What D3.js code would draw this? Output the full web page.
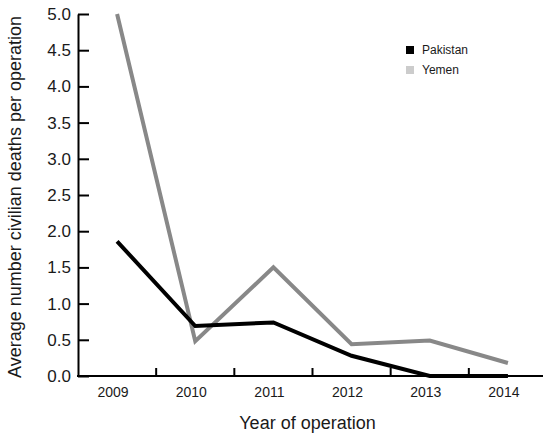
<!DOCTYPE html>
<html>
<head>
<meta charset="utf-8">
<script src="https://cdn.jsdelivr.net/npm/d3@7"></script>
<style>
  html, body { margin: 0; padding: 0; background: #fff; }
  text { font-family: "Liberation Sans", Arial, Helvetica, sans-serif; fill: #1a1a1a; }
</style>
</head>
<body>
<svg id="chart" width="543" height="434"></svg>
<script>
const years = ["2009", "2010", "2011", "2012", "2013", "2014"];
const pakistan = [1.86, 0.69, 0.74, 0.28, 0.0, 0.0];
const yemen = [5.0, 0.48, 1.5, 0.44, 0.49, 0.18];
const yTicks = [0, 0.5, 1.0, 1.5, 2.0, 2.5, 3.0, 3.5, 4.0, 4.5, 5.0];
const seriesNames = ["Pakistan", "Yemen"];
const lineColors = ["#000000", "#888888"];
const legendColors = ["#000000", "#cccccc"];

const svg = d3.select("#chart");
const x = d3.scaleBand().domain(years).range([78, 547]).padding(0);
const y = d3.scaleLinear().domain([0, 5]).range([376, 14]);
const cx = d => x(d) + x.bandwidth() / 2;

// Y axis
const yAxis = d3.axisLeft(y)
  .tickValues(yTicks)
  .tickFormat(d3.format(".1f"))
  .tickSizeInner(-11)
  .tickSizeOuter(0)
  .tickPadding(7);
const gy = svg.append("g").attr("transform", "translate(78,0)").call(yAxis);
gy.select(".domain").attr("stroke", "#000").attr("stroke-width", 2);
gy.selectAll(".tick line").attr("stroke", "#000").attr("stroke-width", 2);
gy.selectAll(".tick text").style("font-size", "17px").attr("fill", "#1a1a1a")
  .style("font-family", "'Liberation Sans', Arial, sans-serif");

// X axis line
svg.append("line")
  .attr("x1", 77).attr("x2", 543)
  .attr("y1", y(0)).attr("y2", y(0))
  .attr("stroke", "#000").attr("stroke-width", 2);

// X boundary ticks
svg.selectAll(".xb").data(years.slice(1)).enter().append("line")
  .attr("x1", d => x(d)).attr("x2", d => x(d))
  .attr("y1", y(0)).attr("y2", y(0) - 8)
  .attr("stroke", "#000").attr("stroke-width", 2);

// X labels
svg.selectAll(".xl").data(years).enter().append("text")
  .attr("x", d => cx(d) - 4)
  .attr("y", 397)
  .attr("text-anchor", "middle")
  .style("font-size", "14px")
  .text(d => d);

// Lines
const line = d3.line().x((d, i) => cx(years[i])).y(d => y(d));
[yemen, pakistan].forEach((vals, k) => {
  const idx = k === 0 ? 1 : 0;
  svg.append("path")
    .datum(vals)
    .attr("d", line)
    .attr("fill", "none")
    .attr("stroke", lineColors[idx])
    .attr("stroke-width", 4)
    .attr("stroke-linejoin", "miter")
    .attr("stroke-linecap", "butt");
});

// Legend
const lg = svg.append("g");
seriesNames.forEach((name, i) => {
  lg.append("rect")
    .attr("x", 406).attr("y", 46 + i * 20)
    .attr("width", 8).attr("height", 8)
    .attr("fill", legendColors[i]);
  lg.append("text")
    .attr("x", 422).attr("y", 54 + i * 19.5)
    .style("font-size", "12px")
    .text(name);
});

// Axis titles
svg.append("text")
  .attr("x", 307.5).attr("y", 429)
  .attr("text-anchor", "middle")
  .style("font-size", "18px")
  .text("Year of operation");

svg.append("text")
  .attr("transform", "translate(21,197) rotate(-90)")
  .attr("text-anchor", "middle")
  .style("font-size", "18px")
  .text("Average number civilian deaths per operation");
</script>
</body>
</html>
